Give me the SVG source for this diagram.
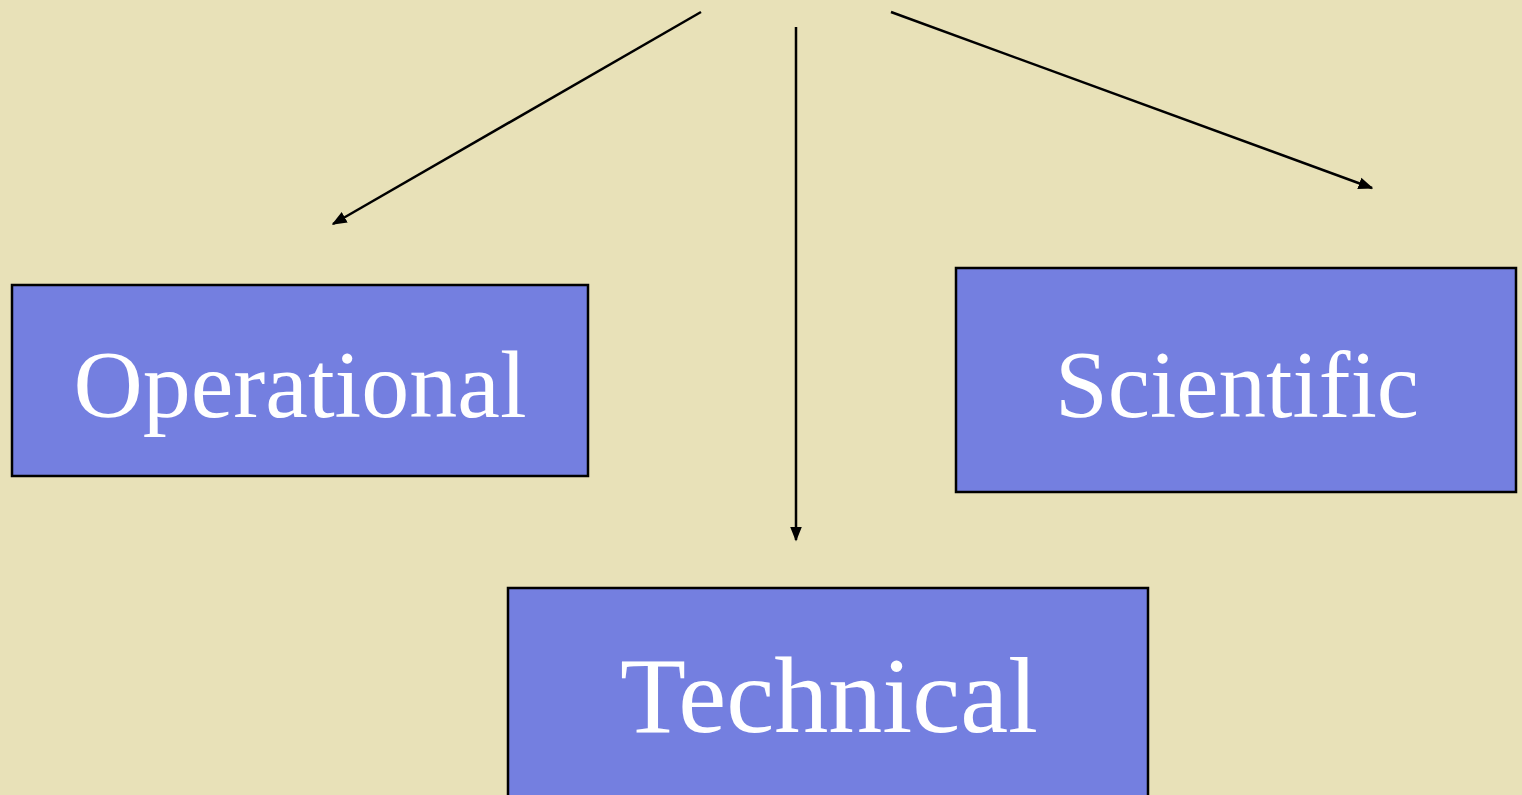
<svg xmlns="http://www.w3.org/2000/svg" width="1522" height="795" viewBox="0 0 1522 795">
<style>
.box{fill:#747FE0;stroke:#000;stroke-width:2.5}
.lbl{font-family:"Liberation Serif","Times New Roman",serif;fill:#fff;text-anchor:middle}
.con{stroke:#000;stroke-width:2.5;fill:none}
</style>
<defs>
<marker id="ah" viewBox="0 0 10 10" refX="9" refY="5" markerWidth="6" markerHeight="6" orient="auto" markerUnits="strokeWidth">
<path d="M0,1 L10,5 L0,9 Z" fill="#000"/>
</marker>
</defs>
<rect width="1522" height="795" fill="#E8E1B8"/>
<g id="connectors">
<line class="con" x1="701" y1="12" x2="333" y2="224" marker-end="url(#ah)"/>
<line class="con" x1="796" y1="27" x2="796" y2="540" marker-end="url(#ah)"/>
<line class="con" x1="891" y1="12" x2="1372" y2="188" marker-end="url(#ah)"/>
</g>
<g id="operational">
<rect class="box" x="12" y="285" width="576" height="191"/>
<text class="lbl" x="300" y="417" font-size="96">Operational</text>
</g>
<g id="scientific">
<rect class="box" x="956" y="268" width="560" height="224"/>
<text class="lbl" x="1237" y="417" font-size="95">Scientific</text>
</g>
<g id="technical">
<rect class="box" x="508" y="588" width="640" height="220"/>
<text class="lbl" x="829" y="732" font-size="108">Technical</text>
</g>
</svg>
